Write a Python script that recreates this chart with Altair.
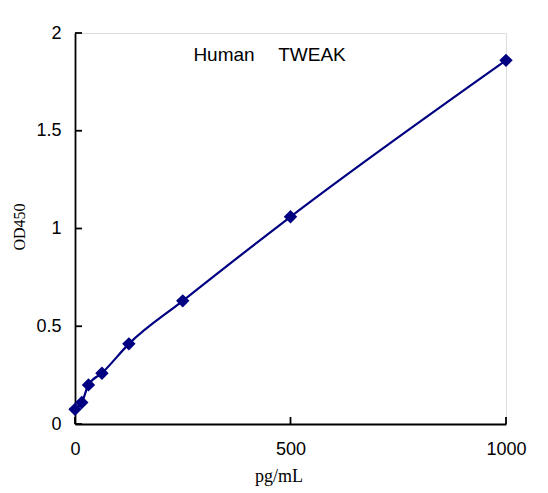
import altair as alt
import pandas as pd

# standard curve readings
conc = [0, 15.6, 31.25, 62.5, 125, 250, 500, 1000]
od450 = [0.075, 0.11, 0.2, 0.26, 0.41, 0.63, 1.06, 1.86]

x_ticks = [0, 500, 1000]
y_ticks = [0, 0.5, 1, 1.5, 2]

W, H = 431, 391
navy = "#000080"

df = pd.DataFrame({"conc": conc, "od": od450})
xt = pd.DataFrame({"v": x_ticks})
yt = pd.DataFrame({"v": y_ticks})

x_scale = alt.Scale(domain=[0, 1000], nice=False, zero=False)
y_scale = alt.Scale(domain=[0, 2], nice=False)

axis_style = dict(
    ticks=False,
    grid=False,
    labelFlush=False,
    domainColor="black",
    domainWidth=1.8,
    labelFont="Liberation Sans",
    labelFontSize=18,
    labelColor="black",
)

base = alt.Chart(df)

line = base.mark_line(color=navy, strokeWidth=2.2, interpolate="monotone").encode(
    x=alt.X(
        "conc:Q",
        scale=x_scale,
        title=None,
        axis=alt.Axis(values=x_ticks, format="d", labelPadding=16, **axis_style),
    ),
    y=alt.Y(
        "od:Q",
        scale=y_scale,
        title=None,
        axis=alt.Axis(values=y_ticks, labelExpr="datum.value", labelPadding=14, **axis_style),
    ),
)

points = base.mark_point(
    shape="diamond", filled=True, color=navy, opacity=1, size=180
).encode(x=alt.X("conc:Q", scale=x_scale), y=alt.Y("od:Q", scale=y_scale))

# inward ticks
xtick_marks = alt.Chart(xt).mark_rule(color="black", strokeWidth=1.8).encode(
    x=alt.X("v:Q", scale=x_scale),
    y=alt.value(H),
    y2=alt.value(H - 7),
)
ytick_marks = alt.Chart(yt).mark_rule(color="black", strokeWidth=1.8).encode(
    y=alt.Y("v:Q", scale=y_scale),
    x=alt.value(0),
    x2=alt.value(7),
)

words = pd.DataFrame({"t": ["Human", "TWEAK"], "px": [149, 237]})
label = alt.Chart(words).mark_text(
    font="Liberation Sans", fontSize=19, color="black"
).encode(text="t:N", x=alt.X("px:Q", scale=None), y=alt.value(22))

xtitle = alt.Chart(pd.DataFrame({"t": ["pg/mL"]})).mark_text(
    font="Liberation Serif", fontSize=18, color="black"
).encode(text="t:N", x=alt.value(204), y=alt.value(444))

ytitle = alt.Chart(pd.DataFrame({"t": ["OD450"]})).mark_text(
    font="Liberation Serif", fontSize=16, color="black", angle=270
).encode(text="t:N", x=alt.value(-55), y=alt.value(194))

chart = (
    alt.layer(line, points, xtick_marks, ytick_marks, label, xtitle, ytitle)
    .properties(
        width=W,
        height=H,
        autosize=alt.AutoSizeParams(type="none"),
        padding={"left": 67, "top": 25, "right": 28, "bottom": 66},
    )
    .configure_view(stroke=None)
    .configure(background="white")
)

chart.save("out.html", embed_options={"renderer": "svg", "actions": False})
